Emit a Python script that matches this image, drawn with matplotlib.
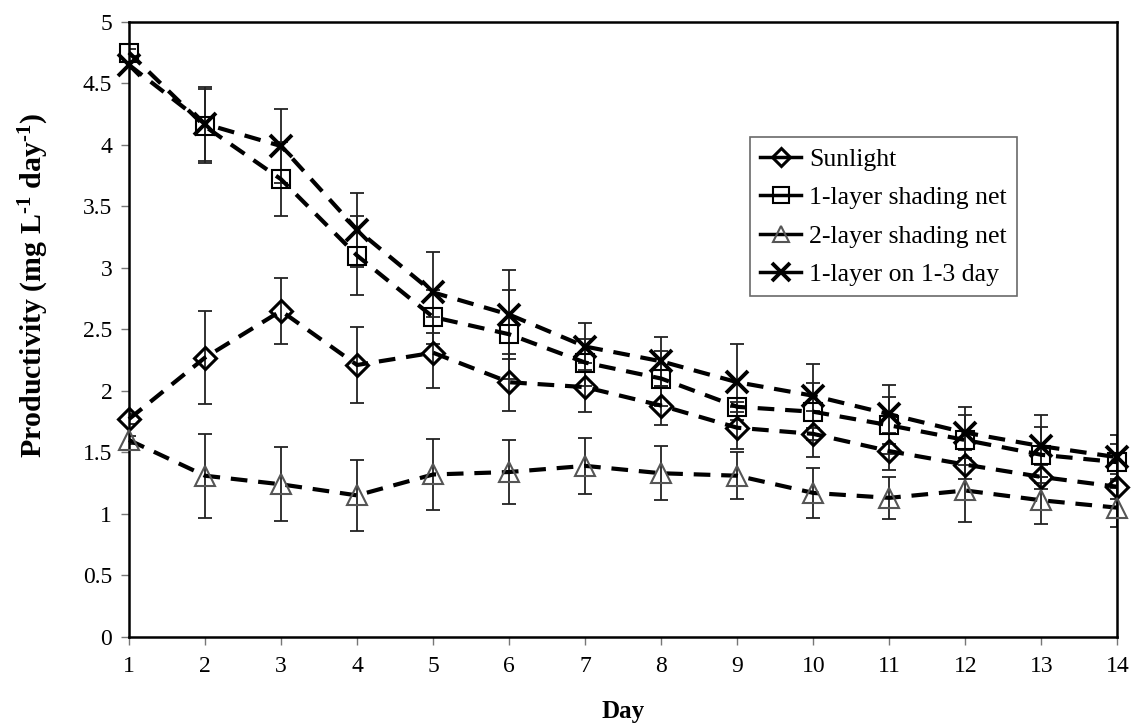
import matplotlib
matplotlib.use("Agg")
import matplotlib.pyplot as plt

plt.rcParams['font.family'] = ['Liberation Serif', 'DejaVu Serif']
plt.rcParams['mathtext.fontset'] = 'custom'
plt.rcParams['mathtext.rm'] = 'Liberation Serif:bold'
plt.rcParams['mathtext.default'] = 'regular'

days = list(range(1, 15))

sunlight = [1.77, 2.27, 2.65, 2.21, 2.31, 2.07, 2.03, 1.88, 1.70, 1.65, 1.51, 1.40, 1.30, 1.22]
sunlight_err = [0.04, 0.38, 0.27, 0.31, 0.29, 0.23, 0.20, 0.16, 0.17, 0.19, 0.15, 0.12, 0.10, 0.10]

one_layer = [4.75, 4.15, 3.72, 3.10, 2.60, 2.46, 2.23, 2.10, 1.87, 1.83, 1.72, 1.60, 1.48, 1.42]
one_layer_err = [0.03, 0.30, 0.30, 0.32, 0.22, 0.36, 0.19, 0.22, 0.04, 0.23, 0.23, 0.20, 0.23, 0.15]

two_layer = [1.60, 1.31, 1.24, 1.15, 1.32, 1.34, 1.39, 1.33, 1.31, 1.17, 1.13, 1.19, 1.11, 1.05]
two_layer_err = [0.03, 0.34, 0.30, 0.29, 0.29, 0.26, 0.23, 0.22, 0.19, 0.20, 0.17, 0.26, 0.19, 0.16]

one_layer_13 = [4.65, 4.17, 3.99, 3.31, 2.80, 2.62, 2.36, 2.24, 2.07, 1.96, 1.81, 1.66, 1.55, 1.46]
one_layer_13_err = [0.03, 0.30, 0.30, 0.30, 0.33, 0.36, 0.19, 0.20, 0.31, 0.26, 0.24, 0.21, 0.25, 0.18]

series = [
    ("Sunlight", sunlight, sunlight_err, "D", 11, "black", 2.2),
    ("1-layer shading net", one_layer, one_layer_err, "s", 13, "black", 1.5),
    ("2-layer shading net", two_layer, two_layer_err, "^", 14, "#555555", 1.5),
    ("1-layer on 1-3 day", one_layer_13, one_layer_13_err, "x", 16, "black", 2.8),
]

fig = plt.figure(figsize=(11.31, 7.27), dpi=100)
ax = fig.add_axes([0.114, 0.124, 0.874, 0.846])

for label, vals, errs, mk, ms, mec, mew in series:
    ax.errorbar(days, vals, yerr=errs, fmt='none', ecolor='#222222',
                elinewidth=1.3, capsize=5, capthick=1.3, zorder=2)
for label, vals, errs, mk, ms, mec, mew in series:
    ax.plot(days, vals, color='black', lw=3, dashes=(4, 2.6),
            marker=mk, markersize=ms, markerfacecolor='none',
            markeredgecolor=mec, markeredgewidth=mew,
            label=label, zorder=3, clip_on=False)

ax.set_xlim(1, 14)
ax.set_ylim(0, 5)
ax.set_xticks(days)
ax.set_yticks([0, 0.5, 1, 1.5, 2, 2.5, 3, 3.5, 4, 4.5, 5])
ax.set_yticklabels(['0', '0.5', '1', '1.5', '2', '2.5', '3', '3.5', '4', '4.5', '5'])
ax.tick_params(axis='both', direction='out', length=6, width=1, color='#777777',
               labelsize=17)
ax.tick_params(axis='x', pad=8)
ax.tick_params(axis='y', pad=6)
for sp in ax.spines.values():
    sp.set_linewidth(1.8)
    sp.set_color('black')

ax.set_xlabel('Day', fontsize=18, fontweight='bold', labelpad=16)
ax.set_ylabel(r'Productivity (mg L$^{\text{-1}}$ day$^{\text{-1}}$)', fontsize=21.5,
              fontweight='bold')
ax.yaxis.set_label_coords(-0.079, 0.572)

leg = ax.legend(loc='upper left', bbox_to_anchor=(0.628, 0.812), fontsize=18.5,
                frameon=True, fancybox=False, edgecolor='#444444',
                handlelength=1.6, handletextpad=0.3, borderpad=0.4,
                labelspacing=0.6, borderaxespad=0, markerscale=0.85)
leg.get_frame().set_linewidth(1.2)
for h in leg.get_lines():
    h.set_linestyle('-')
    h.set_linewidth(2.5)

fig.savefig('out.png', dpi=100)
